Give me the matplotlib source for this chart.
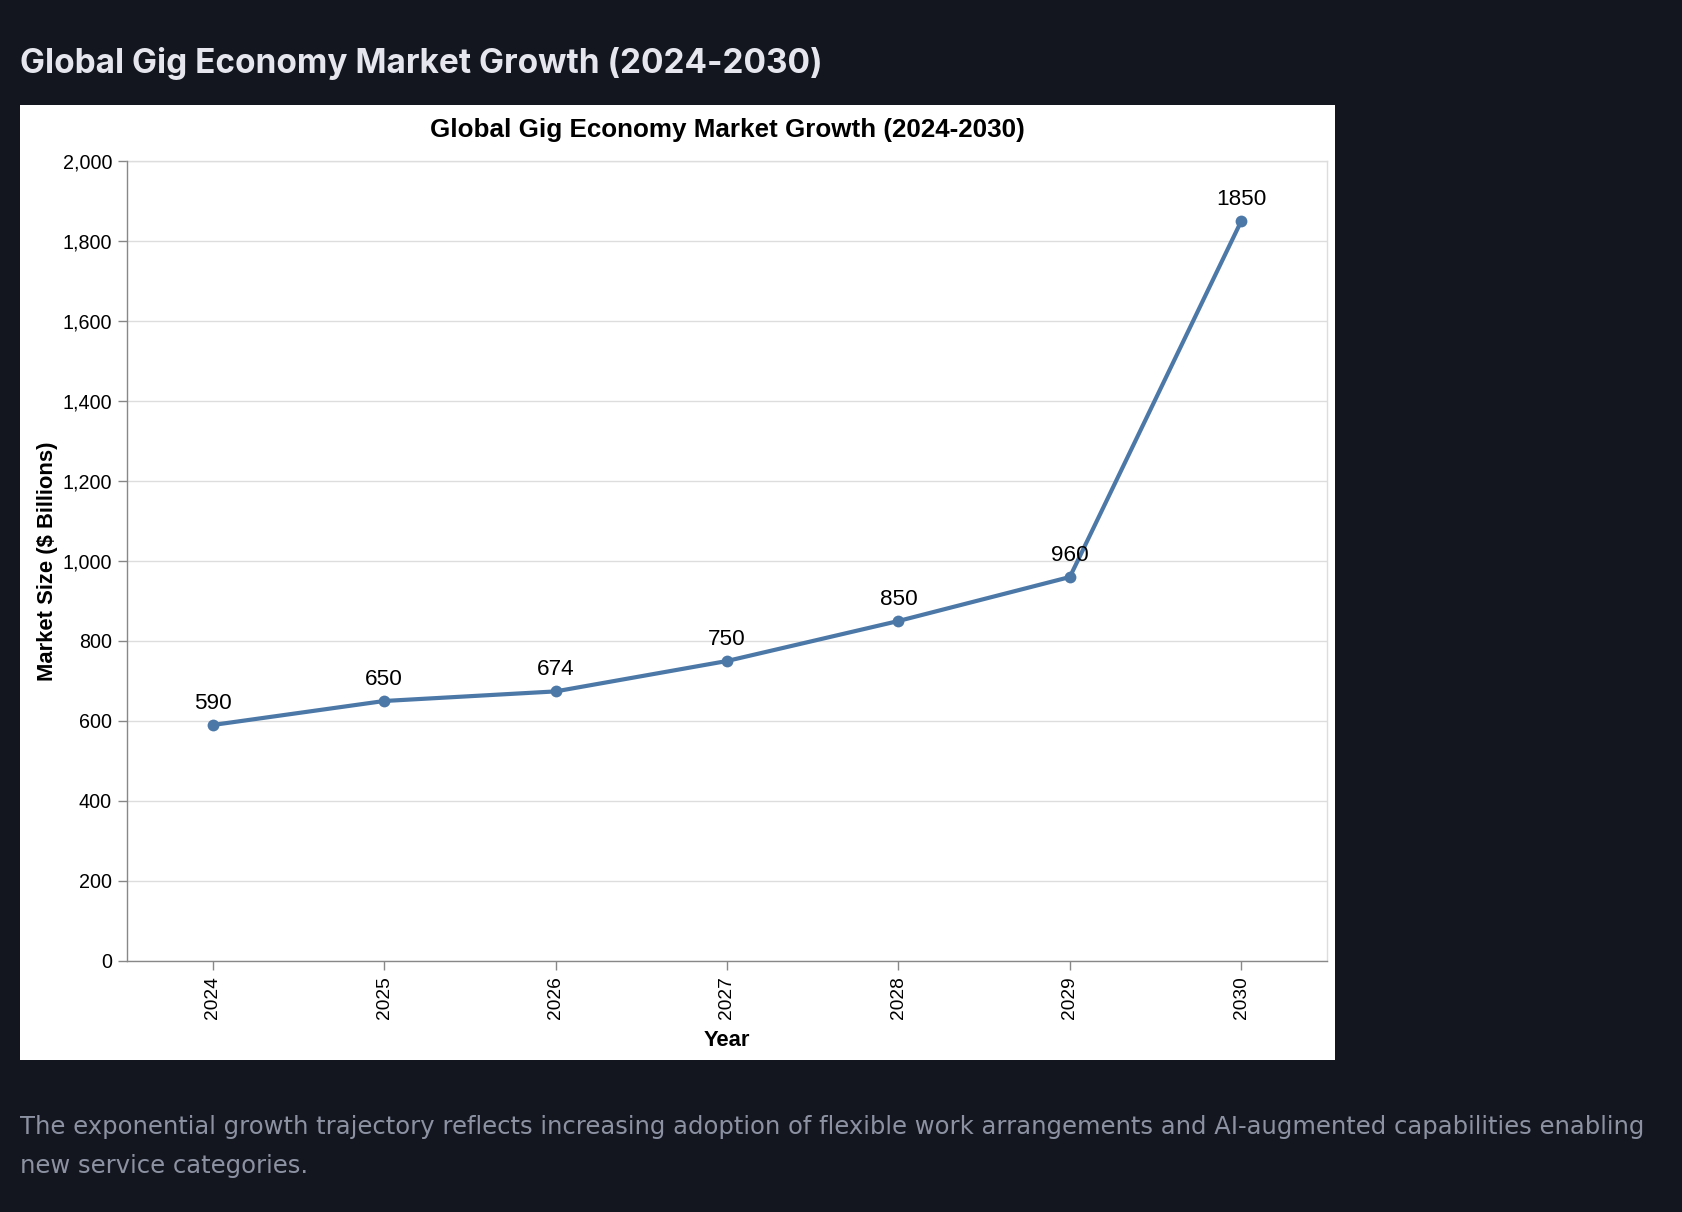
import matplotlib
matplotlib.use("Agg")
import matplotlib.pyplot as plt
from matplotlib.ticker import FuncFormatter, MultipleLocator

# data
years = ["2024", "2025", "2026", "2027", "2028", "2029", "2030"]
market_size = [590, 650, 674, 750, 850, 960, 1850]

page_title = "Global Gig Economy Market Growth (2024-2030)"
chart_title = "Global Gig Economy Market Growth (2024-2030)"
x_label = "Year"
y_label = "Market Size ($ Billions)"
footer_lines = [
    "The exponential growth trajectory reflects increasing adoption of flexible work arrangements and AI-augmented capabilities enabling",
    "new service categories.",
]

W, H = 1682, 1212
BG = "#13161f"
LINE = "#4c78a8"

fig = plt.figure(figsize=(W / 100, H / 100), dpi=100, facecolor=BG)

def fx(px):
    return px / W

def fy(py):
    return 1 - py / H

# white card behind the chart
card = fig.add_axes([fx(20), fy(1060), fx(1335) - fx(20), fy(105) - fy(1060)], zorder=-1)
card.set_facecolor("white")
card.set_xticks([])
card.set_yticks([])
for s in card.spines.values():
    s.set_visible(False)

# page heading and footer note
fig.text(fx(20), fy(73), page_title, color="#e6e7ee", fontsize=24, fontweight="bold",
         family="Inter", va="baseline", ha="left")
for i, line in enumerate(footer_lines):
    fig.text(fx(20), fy(1134 + 39 * i), line, color="#8d92a3", fontsize=17.45,
             family="DejaVu Sans", va="baseline", ha="left")

ax = fig.add_axes([fx(127), fy(961), fx(1327) - fx(127), fy(161) - fy(961)])
ax.set_facecolor("white")

x = list(range(len(years)))
ax.plot(x, market_size, color=LINE, linewidth=3, marker="o", markersize=8.5,
        markerfacecolor=LINE, markeredgewidth=0, zorder=3)
for xi, v in zip(x, market_size):
    ax.annotate(str(v), (xi, v), xytext=(0, 11.5), textcoords="offset points",
                ha="center", va="baseline", fontsize=16.2, family="Liberation Sans", color="black")

ax.set_xlim(-0.5, len(years) - 0.5)
ax.set_ylim(0, 2000)
ax.set_xticks(x)
ax.set_xticklabels(years, rotation=90, family="Liberation Sans", fontsize=13.8)
ax.yaxis.set_major_locator(MultipleLocator(200))
ax.yaxis.set_major_formatter(FuncFormatter(lambda v, p: f"{int(v):,}"))
for lab in ax.get_yticklabels():
    lab.set_family("Liberation Sans")
ax.tick_params(axis="y", labelsize=14.2, length=6.8, width=1, color="#888888", pad=4, labelcolor="black")
ax.tick_params(axis="x", length=6.8, width=1, color="#888888", pad=4, labelcolor="black")

ax.grid(axis="y", color="#dddddd", linewidth=1)
ax.set_axisbelow(True)
for side in ["top", "right"]:
    ax.spines[side].set_color("#dddddd")
    ax.spines[side].set_linewidth(1)
for side in ["left", "bottom"]:
    ax.spines[side].set_color("#888888")
    ax.spines[side].set_linewidth(1)
    ax.spines[side].set_zorder(4)

ax.set_xlabel(x_label, fontsize=15.8, fontweight="bold", family="Liberation Sans", labelpad=8)
ax.set_ylabel(y_label, fontsize=15.8, fontweight="bold", family="Liberation Sans", labelpad=3.5)
ax.set_title(chart_title, fontsize=18.7, fontweight="bold", family="Liberation Sans", pad=17)

fig.savefig("out.png", dpi=100, facecolor=BG)
